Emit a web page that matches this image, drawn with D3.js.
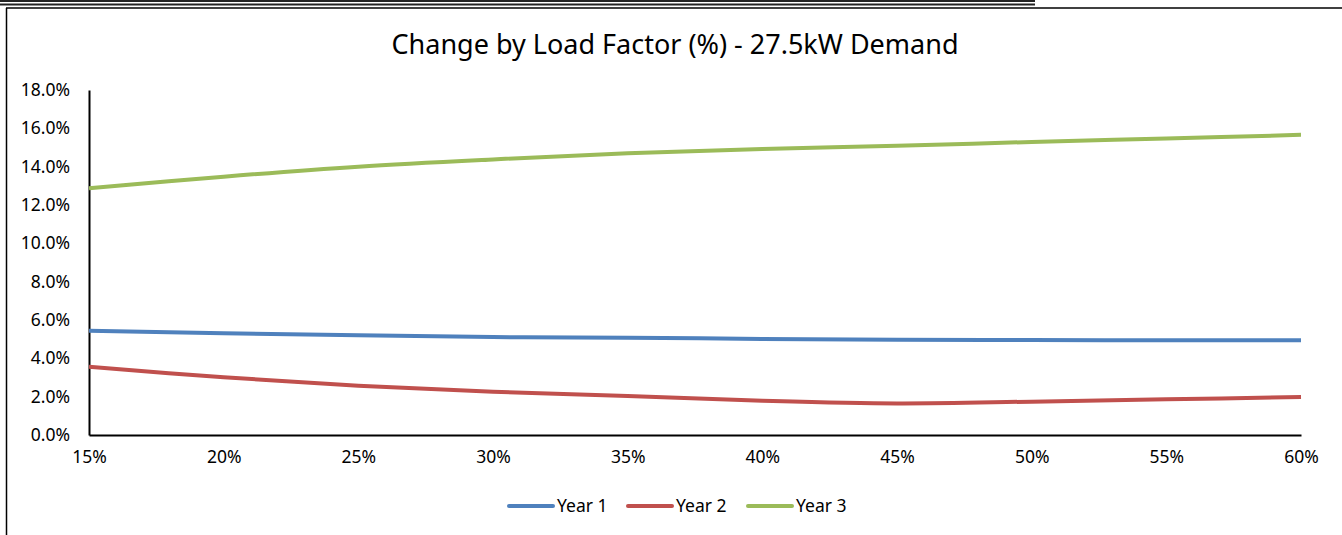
<!DOCTYPE html>
<html>
<head>
<meta charset="utf-8">
<script src="https://cdn.jsdelivr.net/npm/d3@7"></script>
<style>
  html, body { margin: 0; padding: 0; background: #fff; }
  svg { display: block; }
  text { font-family: "Noto Sans", "Open Sans", sans-serif; fill: #000; }
</style>
</head>
<body>
<svg id="chart" width="1342" height="535"></svg>
<script>
const loadFactors = [15, 20, 25, 30, 35, 40, 45, 50, 55, 60];
const year1 = [5.44, 5.31, 5.20, 5.11, 5.08, 5.01, 4.97, 4.96, 4.94, 4.94];
const year2 = [3.56, 3.01, 2.57, 2.26, 2.03, 1.79, 1.65, 1.74, 1.86, 1.98];
const year3 = [12.87, 13.48, 14.00, 14.38, 14.70, 14.92, 15.09, 15.29, 15.47, 15.66];
const seriesNames = ["Year 1", "Year 2", "Year 3"];
const seriesColors = ["#4F81BD", "#C0504D", "#9BBB59"];
const yTicks = [0, 2, 4, 6, 8, 10, 12, 14, 16, 18];
const titleText = "Change by Load Factor (%) - 27.5kW Demand";

const series = [year1, year2, year3].map((v, i) => ({
  name: seriesNames[i], color: seriesColors[i],
  values: v.map((d, j) => ({ x: loadFactors[j], y: d }))
}));

const svg = d3.select("#chart");

// decorative borders from the source document
svg.append("line").attr("x1", 0).attr("x2", 1035).attr("y1", 1).attr("y2", 1)
  .attr("stroke", "#222").attr("stroke-width", 2);
svg.append("line").attr("x1", 0).attr("x2", 1035).attr("y1", 4.5).attr("y2", 4.5)
  .attr("stroke", "#222").attr("stroke-width", 2);
svg.append("line").attr("x1", 6).attr("x2", 1342).attr("y1", 8).attr("y2", 8)
  .attr("stroke", "#000").attr("stroke-width", 1.5);
svg.append("line").attr("x1", 6.5).attr("x2", 6.5).attr("y1", 8).attr("y2", 535)
  .attr("stroke", "#000").attr("stroke-width", 1.5);

const plotLeft = 89, plotRight = 1301, plotTop = 90, plotBottom = 435;
const x = d3.scaleLinear().domain([15, 60]).range([plotLeft, plotRight]);
const y = d3.scaleLinear().domain([0, 18]).range([plotBottom, plotTop]);

// title
svg.append("text").attr("x", 675).attr("y", 54)
  .attr("text-anchor", "middle").attr("font-size", 27)
  .text(titleText);

// y axis
const yAxis = d3.axisLeft(y).tickValues(yTicks).tickSize(0).tickPadding(19)
  .tickFormat(d => d.toFixed(1) + "%");
const gy = svg.append("g").attr("transform", `translate(${plotLeft},0)`).call(yAxis);
gy.select(".domain").attr("stroke", "#000").attr("stroke-width", 2);
gy.selectAll("text").attr("font-size", 17.5).attr("font-family", "Noto Sans");

// x axis
const xAxis = d3.axisBottom(x).tickValues(loadFactors).tickSize(0).tickPadding(16)
  .tickFormat(d => d + "%");
const gx = svg.append("g").attr("transform", `translate(0,${plotBottom})`).call(xAxis);
gx.select(".domain").attr("stroke", "#000").attr("stroke-width", 2);
gx.selectAll("text").attr("font-size", 17.5).attr("font-family", "Noto Sans");

// lines
const line = d3.line().x(d => x(d.x)).y(d => y(d.y)).curve(d3.curveCatmullRom.alpha(0.5));
svg.append("g").selectAll("path").data(series).join("path")
  .attr("d", d => line(d.values))
  .attr("fill", "none")
  .attr("stroke", d => d.color)
  .attr("stroke-width", 4);

// legend
const legendX = [509, 628, 748];
const lg = svg.append("g").selectAll("g").data(series).join("g")
  .attr("transform", (d, i) => `translate(${legendX[i]},506)`);
lg.append("line").attr("x1", 0).attr("x2", 44).attr("y1", 0).attr("y2", 0)
  .attr("stroke", d => d.color).attr("stroke-width", 4).attr("stroke-linecap", "round");
lg.append("text").attr("x", 48).attr("y", 0).attr("dy", "0.35em")
  .attr("font-size", 17.5).text(d => d.name);
</script>
</body>
</html>
